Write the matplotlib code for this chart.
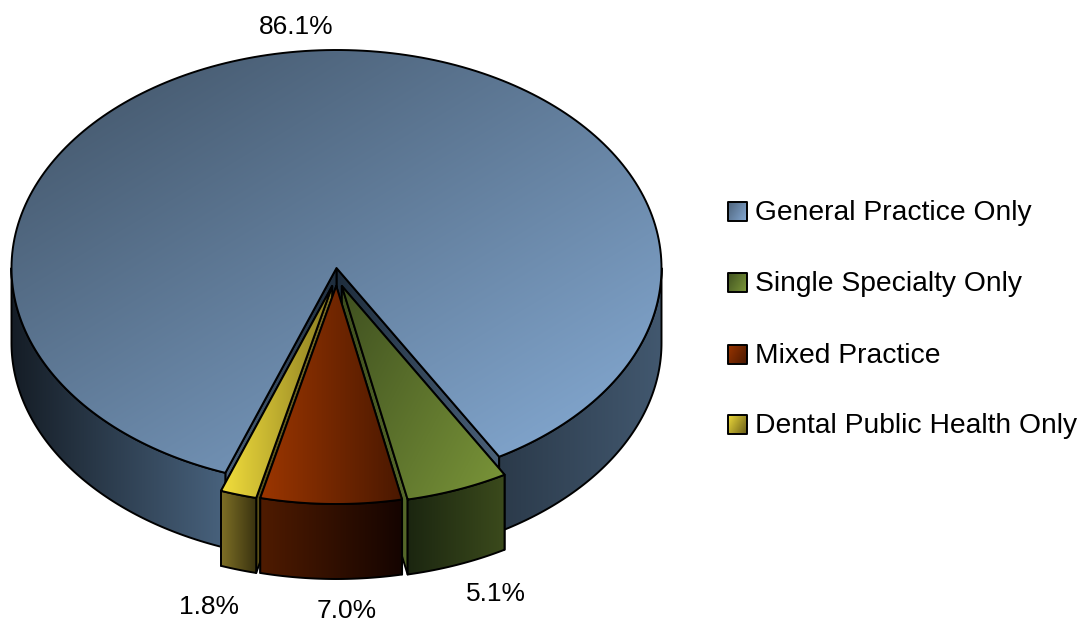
import numpy as np
import matplotlib
matplotlib.use('Agg')
import matplotlib.pyplot as plt
from matplotlib.colors import to_rgb
from matplotlib.patches import PathPatch
from matplotlib.path import Path

plt.rcParams['font.family'] = ['Liberation Sans', 'DejaVu Sans']

# data
categories = ['General Practice Only', 'Single Specialty Only', 'Mixed Practice', 'Dental Public Health Only']
values = [86.1, 5.1, 7.0, 1.8]
pct_labels = ['86.1%', '5.1%', '7.0%', '1.8%']
exploded = [False, True, True, True]

# colours: top face, rim parts, radial walls
top_colors = [('#3f5164', '#88aed8', 47), ('#3f5020', '#7b9639', 35), ('#9c3600', '#4a1800', 0), ('#f2de3c', '#8a7c22', 0)]
rim_colors = [[('#151d26', '#48627d'), ('#2b3a4a', '#42586f')], [('#1b2610', '#3b4a1c')],
              [('#4f1b00', '#150400')], [('#7e7026', '#38310f')]]
wall_colors = [('#1e2d3d', '#4a6078'), ('#3f4f1e', '#56692a'), ('#3a1400', '#3a1400'), ('#7e7026', '#5a5018')]
swatch_colors = [('#4c6178', '#84a8d2'), ('#3f5020', '#7b9639'), ('#9c3600', '#4a1800'), ('#f2de3c', '#6a5e18')]

# layout, in pixels of the 1077x623 picture
cx, cy = 336.5, 268
rx, ry = 325, 218
depth = 75
first_angle = 200
explode_x, explode_y = 15, 18
pct_pos = [(296, 27), (496, 594), (347, 611), (209, 607)]
legend_x = 728
legend_y = [211, 282, 354, 424]

fig = plt.figure(figsize=(10.77, 6.23), dpi=100)
ax = fig.add_axes([0, 0, 1, 1])
ax.set_xlim(0, 1077)
ax.set_ylim(623, 0)
ax.axis('off')

zorder = [1]


def rim_point(a, ox=0, oy=0):
    """a is in degrees, clockwise from the top"""
    a = np.radians(a)
    return cx + ox + rx * np.sin(a), cy + oy - ry * np.cos(a)


def filled(points, c1, c2, angle=0):
    """draws a closed shape with a linear gradient and a black outline"""
    points = np.asarray(points)
    x0, y0 = points.min(axis=0)
    x1, y1 = points.max(axis=0)

    xx, yy = np.meshgrid(np.linspace(0, 1, 200), np.linspace(0, 1, 200))
    t = xx * np.cos(np.radians(angle)) + yy * np.sin(np.radians(angle))
    t = (t - t.min()) / (t.max() - t.min())
    img = (1 - t[..., None]) * np.array(to_rgb(c1)) + t[..., None] * np.array(to_rgb(c2))

    codes = [Path.MOVETO] + [Path.LINETO] * (len(points) - 1) + [Path.CLOSEPOLY]
    path = Path(np.vstack([points, points[:1]]), codes)
    clip = PathPatch(path, facecolor='none', edgecolor='none', zorder=zorder[0])
    ax.add_patch(clip)
    im = ax.imshow(img, extent=(x0, x1, y1, y0), aspect='auto', zorder=zorder[0], interpolation='bilinear')
    im.set_clip_path(clip)
    ax.add_patch(PathPatch(path, facecolor='none', edgecolor='black', lw=1.4, zorder=zorder[0] + 0.5, joinstyle='round'))
    zorder[0] += 1


def visible_parts(start, end):
    """parts of the arc whose rim faces the viewer"""
    parts = []
    for k in (0, 1):
        lo = max(start, 90 + 360 * k)
        hi = min(end, 270 + 360 * k)
        if lo < hi:
            parts.append((lo, hi))
    return parts


def draw_slice(i, start, end):
    ox, oy = 0, 0
    if exploded[i]:
        mid = np.radians((start + end) / 2)
        ox, oy = explode_x * np.sin(mid), explode_y
    apex = (cx + ox, cy + oy)
    c1, c2 = wall_colors[i]

    # radial walls, the one nearest the front of the pie goes on top
    for a in sorted((start, end), key=lambda v: -abs(np.sin(np.radians(v)))):
        rim = rim_point(a, ox, oy)
        filled([apex, rim, (rim[0], rim[1] + depth), (apex[0], apex[1] + depth)], c1, c2, 0 if rim[0] > cx else 180)

    # outer wall
    for part, cols in zip(visible_parts(start, end), rim_colors[i]):
        arc = np.linspace(part[0], part[1], 90)
        upper = [rim_point(a, ox, oy) for a in arc]
        lower = [(x, y + depth) for x, y in upper[::-1]]
        filled(upper + lower, cols[0], cols[1], 0)

    # top face
    arc = np.linspace(start, end, 240)
    filled([apex] + [rim_point(a, ox, oy) for a in arc], *top_colors[i])


angles = first_angle + np.cumsum([0] + values) * 360 / sum(values)
for i in [0, 3, 1, 2]:
    draw_slice(i, angles[i], angles[i + 1])

for (x, y), label in zip(pct_pos, pct_labels):
    ax.text(x, y, label, fontsize=19, ha='center', va='center', color='black', zorder=100)

for y, label, (c1, c2) in zip(legend_y, categories, swatch_colors):
    filled([(legend_x, y - 9.5), (legend_x + 18.5, y - 9.5), (legend_x + 18.5, y + 9.5), (legend_x, y + 9.5)], c1, c2, 30)
    ax.text(755, y + 2, label, fontsize=20.3, ha='left', va='center', color='black', zorder=100)

ax.set_xlim(0, 1077)
ax.set_ylim(623, 0)
fig.savefig('out.png', dpi=100, facecolor='white')
